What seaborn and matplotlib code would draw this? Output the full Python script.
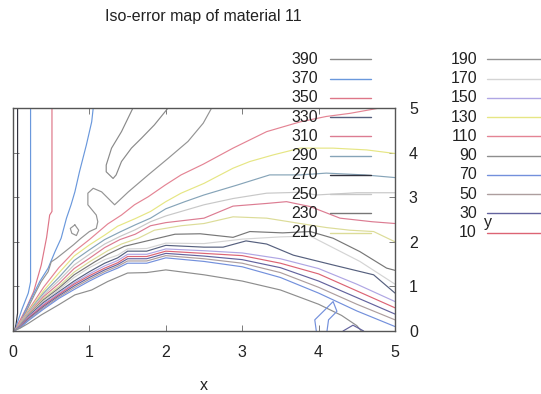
import matplotlib
matplotlib.use("Agg")
import matplotlib.pyplot as plt
import seaborn as sns
from matplotlib.lines import Line2D

# ---------------- data ----------------
title = "Iso-error map of material 11"
x_label = "x"
y_label = "y"
x_ticks = [0, 1, 2, 3, 4, 5]
y_ticks = [0, 1, 2, 3, 4, 5]

levels = [390, 370, 350, 330, 310, 290, 270, 250, 230, 210,
          190, 170, 150, 130, 110, 90, 70, 50, 30, 10]
level_colors = ["#8a8a8a", "#6a98dc", "#de7688", "#56607e", "#dc7c92",
                "#86a4b8", "#33333f", "#c8c8c8", "#777777", "#dcdc98",
                "#949494", "#d4d4d4", "#afa6e4", "#e6e684", "#e48494",
                "#8e8e8e", "#7390dc", "#ad9e9e", "#63639e", "#dc6474"]

# contour polylines (data coordinates)
v270_x = [0.02, 0.04, 0.06, 0.06]
v270_y = [0.0, 0.15, 0.4, 5.0]
v370_x = [0.03, 0.06, 0.12, 0.20, 0.23, 0.23]
v370_y = [0.02, 0.20, 0.50, 0.85, 1.10, 5.0]
v350_x = [0.03, 0.08, 0.17, 0.27, 0.37, 0.44, 0.48, 0.51, 0.51]
v350_y = [0.02, 0.20, 0.50, 0.88, 1.48, 2.10, 2.60, 2.68, 5.0]
b370_x = [0.03, 0.10, 0.16, 0.24, 0.35, 0.46, 0.55, 0.63, 0.70, 0.76, 0.81, 0.87, 0.96, 1.03, 1.05]
b370_y = [0.02, 0.20, 0.45, 0.73, 1.11, 1.41, 1.78, 2.08, 2.53, 2.83, 3.12, 3.57, 4.17, 4.69, 5.0]
u390_x = [1.57, 1.42, 1.29, 1.22, 1.22, 1.31, 1.35, 1.42, 1.55, 1.68, 1.85, 2.03]
u390_y = [5.0, 4.47, 4.10, 3.72, 3.57, 3.42, 3.50, 3.80, 4.10, 4.32, 4.62, 5.0]
g190_x = [0.04, 0.12, 0.20, 0.28, 0.37, 0.46, 0.50, 0.57, 0.68, 0.79, 0.89, 1.00, 1.09,
          1.11, 1.09, 0.98, 0.98, 1.05, 1.16, 1.33, 1.51, 1.77, 2.03, 2.29, 2.49, 2.60]
g190_y = [0.04, 0.25, 0.53, 0.81, 1.11, 1.33, 1.55, 1.63, 1.78, 1.93, 2.08, 2.23, 2.30,
          2.45, 2.60, 2.83, 3.09, 3.20, 3.12, 2.83, 3.12, 3.50, 3.87, 4.25, 4.66, 5.0]
loop190_x = [0.81, 0.86, 0.83, 0.77, 0.75, 0.81]
loop190_y = [2.38, 2.26, 2.14, 2.19, 2.30, 2.38]
r110_x = [0.03, 0.10, 0.20, 0.40, 0.60, 0.80, 1.00, 1.24, 1.42, 1.59, 1.77, 1.99, 2.20,
          2.49, 2.88, 3.32, 3.76, 4.10, 4.41, 4.80]
r110_y = [0.02, 0.22, 0.46, 0.98, 1.42, 1.78, 2.05, 2.40, 2.60, 2.83, 3.01, 3.27, 3.50,
          3.74, 4.10, 4.47, 4.69, 4.81, 4.88, 5.0]
y130_x = [0.03, 0.10, 0.20, 0.40, 0.60, 0.80, 1.00, 1.20, 1.37, 1.60, 1.80, 2.00, 2.20,
          2.50, 2.88, 3.10, 3.41, 3.76, 4.19, 4.63, 5.0]
y130_y = [0.02, 0.20, 0.44, 0.90, 1.30, 1.68, 1.93, 2.15, 2.35, 2.52, 2.68, 2.90, 3.09,
          3.31, 3.65, 3.80, 3.95, 4.10, 4.10, 4.06, 3.98]
b290_x = [0.03, 0.10, 0.20, 0.40, 0.60, 0.80, 1.00, 1.20, 1.40, 1.60, 1.80, 2.00, 2.25,
          2.50, 2.93, 3.36, 3.76, 4.10, 4.60, 5.0]
b290_y = [0.02, 0.19, 0.42, 0.85, 1.20, 1.58, 1.82, 2.05, 2.22, 2.38, 2.53, 2.74, 2.90,
          3.05, 3.27, 3.50, 3.50, 3.54, 3.50, 3.44]
l250_x = [0.03, 0.10, 0.20, 0.40, 0.60, 0.80, 1.00, 1.20, 1.40, 1.60, 1.80, 2.00, 2.50,
          2.88, 3.32, 3.76, 3.97, 4.50, 5.0]
l250_y = [0.02, 0.18, 0.40, 0.81, 1.13, 1.48, 1.72, 1.95, 2.12, 2.27, 2.45, 2.58, 2.83,
          2.97, 3.09, 3.11, 3.05, 3.10, 3.10]
r310_x = [0.03, 0.10, 0.20, 0.40, 0.60, 0.80, 1.00, 1.20, 1.40, 1.60, 1.80, 2.00, 2.20,
          2.50, 2.88, 3.32, 3.58, 3.89, 4.28, 4.70, 5.0]
r310_y = [0.02, 0.17, 0.38, 0.77, 1.06, 1.40, 1.63, 1.87, 2.05, 2.17, 2.36, 2.43, 2.47,
          2.53, 2.80, 2.86, 2.90, 2.79, 2.53, 2.45, 2.41]
y210_x = [0.03, 0.10, 0.20, 0.40, 0.60, 0.80, 1.00, 1.24, 1.42, 1.64, 1.85, 2.20, 2.50,
          2.88, 3.32, 3.76, 4.10, 4.41, 4.72, 5.0]
y210_y = [0.02, 0.16, 0.36, 0.73, 1.00, 1.32, 1.55, 1.80, 1.95, 2.08, 2.26, 2.36, 2.41,
          2.56, 2.53, 2.41, 2.32, 2.26, 2.23, 2.00]
g230_x = [0.03, 0.10, 0.20, 0.40, 0.60, 0.80, 1.07, 1.24, 1.46, 1.68, 1.85, 2.12, 2.45,
          2.88, 3.10, 3.53, 3.89, 4.19, 4.54, 4.89, 5.0]
g230_y = [0.02, 0.15, 0.35, 0.70, 0.96, 1.26, 1.55, 1.72, 1.90, 1.99, 2.06, 2.17, 2.18,
          2.10, 2.23, 2.20, 2.23, 2.08, 1.78, 1.41, 1.36]
l170_x = [0.03, 0.10, 0.20, 0.40, 0.60, 0.80, 1.00, 1.20, 1.37, 1.50, 1.75, 2.00, 2.50,
          3.00, 3.50, 3.89, 4.54, 5.0]
l170_y = [0.02, 0.14, 0.34, 0.67, 0.92, 1.20, 1.42, 1.60, 1.70, 1.84, 1.85, 1.97, 1.96,
          2.06, 2.11, 2.13, 1.56, 1.05]
d330_x = [0.03, 0.10, 0.20, 0.40, 0.60, 0.80, 1.00, 1.20, 1.37, 1.50, 1.75, 2.00, 2.50,
          2.75, 3.05, 3.32, 3.67, 4.19, 4.72, 5.0]
d330_y = [0.02, 0.13, 0.33, 0.64, 0.88, 1.12, 1.33, 1.52, 1.64, 1.79, 1.79, 1.92, 1.88,
          1.88, 2.02, 1.95, 1.70, 1.48, 1.26, 0.85]
bunch_x = [0.03, 0.10, 0.20, 0.40, 0.60, 0.80, 1.00, 1.20, 1.37, 1.50, 1.75, 2.00, 2.50,
           3.00, 3.50, 4.00, 4.50, 5.0]
b150_y = [0.02, 0.12, 0.31, 0.61, 0.85, 1.08, 1.28, 1.46, 1.58, 1.72, 1.72, 1.84, 1.80,
          1.75, 1.62, 1.40, 1.05, 0.66]
b10_y = [0.02, 0.11, 0.29, 0.58, 0.82, 1.05, 1.24, 1.41, 1.53, 1.67, 1.67, 1.79, 1.74,
         1.69, 1.52, 1.28, 0.90, 0.52]
b30_y = [0.02, 0.10, 0.27, 0.55, 0.79, 1.01, 1.20, 1.37, 1.49, 1.62, 1.62, 1.74, 1.68,
         1.60, 1.42, 1.12, 0.75, 0.38]
b50_y = [0.02, 0.09, 0.25, 0.52, 0.76, 0.97, 1.16, 1.33, 1.45, 1.57, 1.57, 1.69, 1.62,
         1.52, 1.31, 0.98, 0.60, 0.25]
b70_y = [0.02, 0.08, 0.23, 0.49, 0.73, 0.93, 1.12, 1.29, 1.41, 1.52, 1.52, 1.64, 1.56,
         1.44, 1.20, 0.85, 0.45, 0.10]
g90_x = [0.03, 0.09, 0.20, 0.37, 0.59, 0.81, 1.03, 1.24, 1.50, 1.75, 2.00, 2.50, 3.00,
         3.50, 4.00, 4.30, 4.50, 4.56]
g90_y = [0.02, 0.06, 0.17, 0.36, 0.58, 0.81, 0.92, 1.11, 1.30, 1.31, 1.37, 1.26, 1.12,
         0.92, 0.60, 0.35, 0.12, 0.0]
s70_x = [3.97, 3.95, 4.08, 4.19, 4.24, 4.13, 4.11]
s70_y = [0.0, 0.25, 0.47, 0.66, 0.44, 0.25, 0.0]
s30_x = [4.32, 4.45, 4.59]
s30_y = [0.0, 0.13, 0.0]

contours = [
    (270, v270_x, v270_y), (370, v370_x, v370_y), (350, v350_x, v350_y),
    (370, b370_x, b370_y), (390, u390_x, u390_y), (190, g190_x, g190_y),
    (190, loop190_x, loop190_y), (110, r110_x, r110_y), (130, y130_x, y130_y),
    (290, b290_x, b290_y), (250, l250_x, l250_y), (310, r310_x, r310_y),
    (210, y210_x, y210_y), (230, g230_x, g230_y), (170, l170_x, l170_y),
    (330, d330_x, d330_y), (150, bunch_x, b150_y), (10, bunch_x, b10_y),
    (30, bunch_x, b30_y), (50, bunch_x, b50_y), (70, bunch_x, b70_y),
    (90, g90_x, g90_y), (70, s70_x, s70_y), (30, s30_x, s30_y),
]

# ---------------- drawing ----------------
sns.set_style("white")
plt.rcParams["font.family"] = ["Liberation Sans", "DejaVu Sans"]

W, H = 541, 394
fig = plt.figure(figsize=(W / 100, H / 100), dpi=100)
ax = fig.add_axes([13 / W, 1 - 331 / H, (395 - 13) / W, (331 - 108) / H])

color_of = dict(zip(levels, level_colors))
for lev, xs, ys in contours:
    sns.lineplot(x=xs, y=ys, sort=False, estimator=None, color=color_of[lev],
                 linewidth=0.85, ax=ax, legend=False)

ax.set_xlim(0, 5)
ax.set_ylim(0, 5)
ax.set_xticks(x_ticks)
ax.set_yticks(y_ticks)
ax.set_xticklabels([str(t) for t in x_ticks])
ax.set_yticklabels([str(t) for t in y_ticks])
ax.tick_params(direction="in", length=4, width=0.6, colors="#666666",
               labelcolor="#222222", labelsize=11.5,
               top=True, bottom=True, left=True, right=True,
               labelleft=False, labelright=True)
ax.tick_params(axis="x", pad=10)
ax.tick_params(axis="y", pad=10)
for s in ax.spines.values():
    s.set_color("#555555")
    s.set_linewidth(1.0)
ax.set_xlabel("")
ax.set_ylabel("")

fig.text(203.5 / W, 1 - 17 / H, title, ha="center", va="center",
         fontsize=11.5, color="#222222")
fig.text(204 / W, 1 - 385 / H, x_label, ha="center", va="center",
         fontsize=11.5, color="#222222")
fig.text(488 / W, 1 - 222 / H, y_label, ha="center", va="center",
         fontsize=11.5, color="#222222")

# key (gnuplot style, two columns)
row0, dy = 59.3, 19.26
cols = [(318, 330, 371), (477, 487, 545)]
for i, (lev, col) in enumerate(zip(levels, level_colors)):
    c = i // 10
    r = i % 10
    lx, x0, x1 = cols[c]
    yy = 1 - (row0 + r * dy) / H
    fig.text(lx / W, yy, str(lev), ha="right", va="center",
             fontsize=11.5, color="#222222")
    fig.add_artist(Line2D([x0 / W, x1 / W], [yy, yy], color=col,
                          linewidth=1.0, transform=fig.transFigure))

fig.savefig("out.png", dpi=100)
